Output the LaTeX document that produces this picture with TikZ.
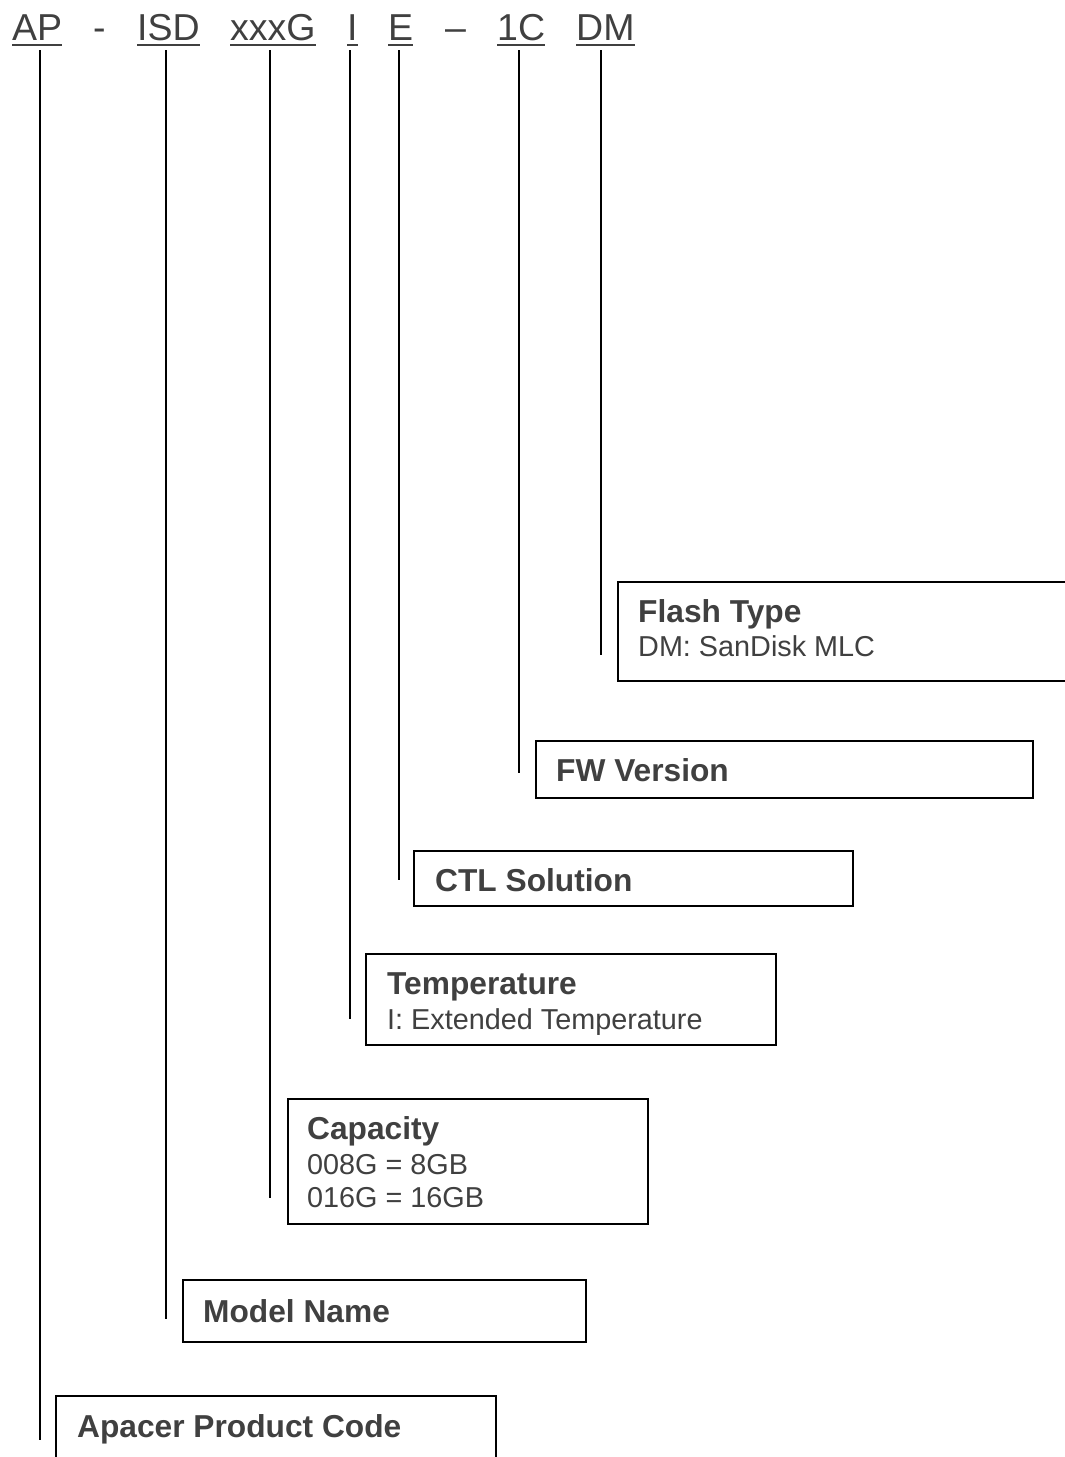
\documentclass[tikz,border=0pt]{standalone}
\usepackage{fontspec}
\setmainfont{Liberation Sans}
\definecolor{txt}{HTML}{404040}
\begin{document}
\begin{tikzpicture}[x=1pt,y=-1pt,
  word/.style={inner sep=0pt,anchor=base west,text=txt,font=\fontsize{37.5}{44}\selectfont},
  uline/.style={draw=txt,line width=2.4pt},
  lead/.style={draw=black,line width=1.6pt},
  box/.style={draw=black,line width=1.5pt,inner sep=0pt,anchor=north west},
  ttl/.style={inner sep=0pt,anchor=base west,text=txt,font=\fontsize{31.7}{35}\selectfont\bfseries},
  sub/.style={inner sep=0pt,anchor=base west,text=txt,font=\fontsize{28.8}{34}\selectfont}]
\useasboundingbox (0,0) rectangle (1065,1457);
\clip (0,0) rectangle (1065,1457);
% code words
\node[word] (ap) at (12,40) {AP};
\node[word] (d1) at (93,40) {-};
\node[word] (isd) at (137,40) {ISD};
\node[word] (cap) at (230,40) {xxxG};
\node[word] (tmp) at (347,40) {I};
\node[word] (ctl) at (388,40) {E};
\node[word] (d2) at (445,40) {–};
\node[word] (fw) at (497,40) {1C};
\node[word] (fl) at (576,40) {DM};
\foreach \w in {ap,isd,cap,tmp,ctl,fw,fl}
  \draw[uline] ([yshift=-4.5pt]\w.south west) -- ([yshift=-4.5pt]\w.south east);
% boxes
\node[box,minimum width=470,minimum height=99] (bfl) at (617,581) {};
\node[box,minimum width=497,minimum height=57] (bfw) at (535,740) {};
\node[box,minimum width=439,minimum height=55] (bctl) at (413,850) {};
\node[box,minimum width=410,minimum height=91] (btmp) at (365,953) {};
\node[box,minimum width=360,minimum height=125] (bcap) at (287,1098) {};
\node[box,minimum width=403,minimum height=62] (bisd) at (182,1279) {};
\node[box,minimum width=440,minimum height=90] (bap) at (55,1395) {};
% texts
\node[ttl] (tfl) at (638,622) {Flash Type};
\node[sub] (sfl) at (638,656) {DM: SanDisk MLC};
\node[ttl] (tfw) at (556,781) {FW Version};
\node[ttl] (tctl) at (435,891) {CTL Solution};
\node[ttl] (ttmp) at (387,994) {Temperature};
\node[sub] (stmp) at (387,1029) {I: Extended Temperature};
\node[ttl] (tcap) at (307,1139) {Capacity};
\node[sub] (scap1) at (307,1174) {008G = 8GB};
\node[sub] (scap2) at (307,1207) {016G = 16GB};
\node[ttl] (tisd) at (203,1322) {Model Name};
\node[ttl] (tap) at (77,1437) {Apacer Product Code};
% leader ends
\coordinate (eap) at (40,1440);
\coordinate (eisd) at (166,1319);
\coordinate (ecap) at (270,1198);
\coordinate (etmp) at (350,1019);
\coordinate (ectl) at (399,880);
\coordinate (efw) at (519,773);
\coordinate (efl) at (601,655);
\coordinate (top) at (0,50);
\draw[lead] (eap |- top) -- (eap);
\draw[lead] (eisd |- top) -- (eisd);
\draw[lead] (ecap |- top) -- (ecap);
\draw[lead] (etmp |- top) -- (etmp);
\draw[lead] (ectl |- top) -- (ectl);
\draw[lead] (efw |- top) -- (efw);
\draw[lead] (efl |- top) -- (efl);
\end{tikzpicture}
\end{document}
